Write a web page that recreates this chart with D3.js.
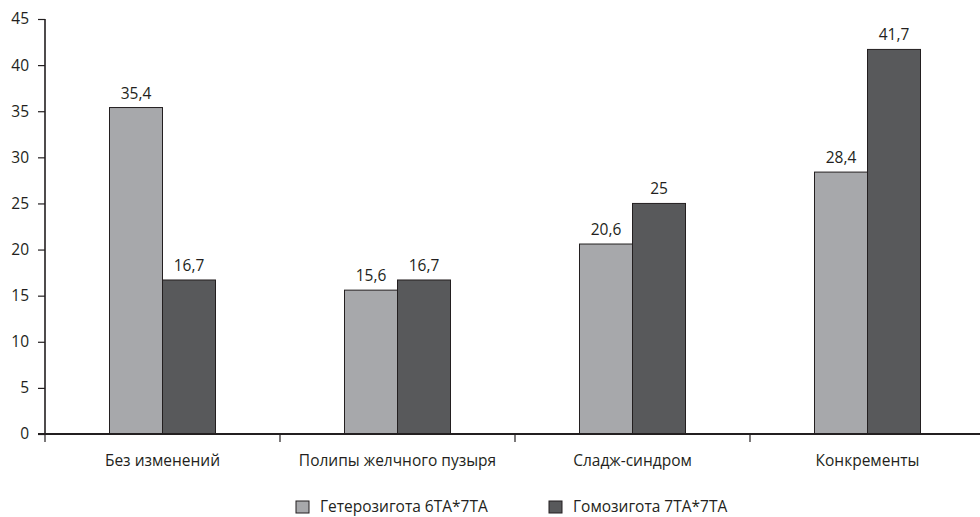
<!DOCTYPE html>
<html>
<head>
<meta charset="utf-8">
<script src="https://cdn.jsdelivr.net/npm/d3@7"></script>
<style>
  html, body { margin: 0; padding: 0; background: #fff; }
  svg { display: block; font-family: "Open Sans", "Noto Sans", sans-serif; }
  text { fill: #231f20; }
</style>
</head>
<body>
<svg id="chart" width="980" height="517"></svg>
<script>
// Categories along the x axis
const categories = ["Без изменений", "Полипы желчного пузыря", "Сладж-синдром", "Конкременты"];
// Series names (legend)
const seriesNames = ["Гетерозигота 6ТА*7ТА", "Гомозигота 7ТА*7ТА"];
// Values per series, in category order (%)
const heterozygous = [35.4, 15.6, 20.6, 28.4];
const homozygous = [16.7, 16.7, 25, 41.7];
// Y axis ticks
const yTicks = [0, 5, 10, 15, 20, 25, 30, 35, 40, 45];

const colors = ["#a7a8ab", "#58595b"];
const seriesValues = [heterozygous, homozygous];
const fontSize = 15.5;

const svg = d3.select("#chart");

const x0 = d3.scaleBand().domain(categories).range([45, 985]).paddingInner(0).paddingOuter(0);
const x1 = d3.scaleBand().domain(seriesNames).range([0, x0.bandwidth()]).paddingInner(0).paddingOuter(1.217);
const y = d3.scaleLinear().domain([0, 45]).range([434, 19]);

// Y axis
const yAxis = svg.append("g")
  .attr("transform", "translate(45,0)")
  .call(d3.axisLeft(y).tickValues(yTicks).tickSize(7).tickPadding(9).tickFormat(d3.format("d")));
yAxis.select(".domain").attr("stroke", "#231f20").attr("stroke-width", 1.6).attr("d", "M0,19V434");
yAxis.selectAll(".tick line").attr("stroke", "#231f20").attr("stroke-width", 1.2);
yAxis.selectAll(".tick text").attr("font-size", fontSize).attr("fill", "#231f20")
  .attr("font-family", "'Open Sans', 'Noto Sans', sans-serif");

// Bars
const groups = svg.append("g").selectAll("g")
  .data(categories)
  .join("g")
  .attr("transform", d => `translate(${x0(d)},0)`);

groups.each(function(cat, ci) {
  const g = d3.select(this);
  seriesNames.forEach((s, si) => {
    const v = seriesValues[si][ci];
    g.append("rect")
      .attr("x", x1(s))
      .attr("y", y(v))
      .attr("width", x1.bandwidth())
      .attr("height", y(0) - y(v))
      .attr("fill", colors[si])
      .attr("stroke", "#231f20")
      .attr("stroke-width", 1);
    g.append("text")
      .attr("x", x1(s) + x1.bandwidth() / 2)
      .attr("y", y(v) - 9)
      .attr("text-anchor", "middle")
      .attr("font-size", fontSize)
      .text(String(v).replace(".", ","));
  });
});

// X axis
const xAxis = svg.append("g").attr("transform", "translate(0,434)");
xAxis.append("line")
  .attr("x1", 38).attr("x2", 985)
  .attr("stroke", "#231f20").attr("stroke-width", 2);
const boundaries = categories.map(c => x0(c)).concat([x0.range()[1]]);
xAxis.selectAll(".xtick")
  .data(boundaries)
  .join("line")
  .attr("class", "xtick")
  .attr("x1", d => d).attr("x2", d => d)
  .attr("y1", 0).attr("y2", 8)
  .attr("stroke", "#231f20").attr("stroke-width", 1.2);
xAxis.selectAll(".xlabel")
  .data(categories)
  .join("text")
  .attr("class", "xlabel")
  .attr("x", d => x0(d) + x0.bandwidth() / 2)
  .attr("y", 32)
  .attr("text-anchor", "middle")
  .attr("font-size", fontSize)
  .text(d => d);

// Legend
const legendPos = [296, 549];
const legend = svg.append("g");
seriesNames.forEach((s, i) => {
  legend.append("rect")
    .attr("x", legendPos[i]).attr("y", 501)
    .attr("width", 13).attr("height", 12)
    .attr("fill", colors[i])
    .attr("stroke", "#231f20").attr("stroke-width", 1);
  legend.append("text")
    .attr("x", legendPos[i] + 24).attr("y", 512)
    .attr("font-size", fontSize)
    .text(s);
});
</script>
</body>
</html>
